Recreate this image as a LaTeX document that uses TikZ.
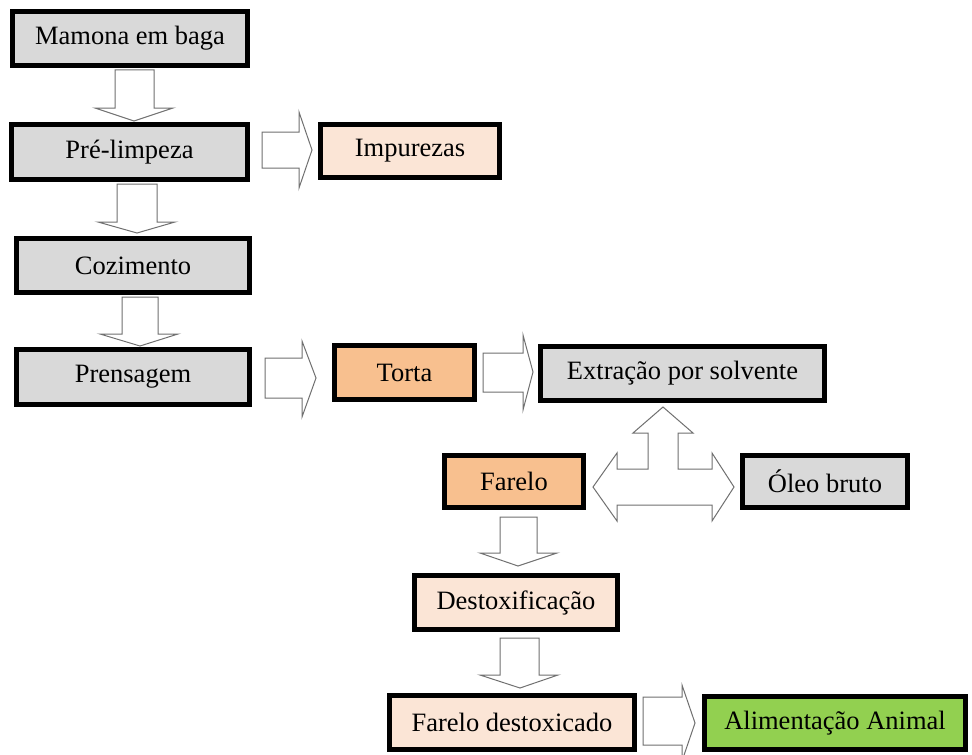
\documentclass[tikz,border=0pt]{standalone}
\usepackage{fontspec}
\setmainfont{Liberation Serif}
\definecolor{boxgray}{HTML}{D9D9D9}
\definecolor{boxpeach}{HTML}{FBE5D6}
\definecolor{boxorange}{HTML}{F8C08F}
\definecolor{boxgreen}{HTML}{92D050}
\definecolor{arrowline}{HTML}{707070}
\begin{document}
\begin{tikzpicture}[x=1bp,y=-1bp,
  box/.style={draw=black, line width=5bp, inner sep=0pt,
    font=\fontsize{26.5bp}{30bp}\selectfont, text=black},
  graybox/.style={box, fill=boxgray},
  peachbox/.style={box, fill=boxpeach},
  orangebox/.style={box, fill=boxorange},
  greenbox/.style={box, fill=boxgreen},
  blockarrow/.style={draw=arrowline, line width=1bp, fill=white, line join=miter}
]
\clip (0,0) rectangle (972,755);
\fill[white] (0,0) rectangle (972,755);

% boxes
\node[graybox, minimum width=235bp, minimum height=54bp] (mamona) at (130,38.5) {Mamona em baga};
\node[graybox, minimum width=236bp, minimum height=55bp] (prelimp) at (129.5,152) {Pré-limpeza};
\node[peachbox, minimum width=179bp, minimum height=53bp] (impurezas) at (410,151) {Impurezas};
\node[graybox, minimum width=233bp, minimum height=54bp] (cozimento) at (133,265.5) {Cozimento};
\node[graybox, minimum width=233bp, minimum height=55bp] (prensagem) at (133,377) {Prensagem};
\node[orangebox, minimum width=140bp, minimum height=54bp] (torta) at (404.5,372.5) {Torta};
\node[graybox, minimum width=284bp, minimum height=54bp] (extracao) at (682.5,373.5) {Extração por solvente};
\node[orangebox, minimum width=139bp, minimum height=52bp] (farelo) at (514,481.5) {Farelo};
\node[graybox, minimum width=165bp, minimum height=52bp] (oleo) at (825,481.5) {Óleo bruto};
\node[peachbox, minimum width=203bp, minimum height=54bp] (destox) at (516,602.5) {Destoxificação};
\node[peachbox, minimum width=245bp, minimum height=54bp] (fareloD) at (512,722.5) {Farelo destoxicado};
\node[greenbox, minimum width=261bp, minimum height=53bp] (alim) at (835,723) {Alimentação Animal};

% down block arrows
\draw[blockarrow] (115,70) -- (154,70) -- (154,108) -- (173,108) -- (134,121) -- (95,108) -- (115,108) -- cycle;
\draw[blockarrow] (117,184) -- (157,184) -- (157,222) -- (175,222) -- (137,233) -- (98,222) -- (117,222) -- cycle;
\draw[blockarrow] (122,297) -- (158,297) -- (158,334) -- (178,334) -- (140,346) -- (100,334) -- (122,334) -- cycle;
\draw[blockarrow] (500,517) -- (537,517) -- (537,553) -- (557,553) -- (518,566) -- (480,553) -- (500,553) -- cycle;
\draw[blockarrow] (500,638) -- (539,638) -- (539,675) -- (558,675) -- (520,688) -- (480,675) -- (500,675) -- cycle;

% right block arrows
\draw[blockarrow] (262,132) -- (299,132) -- (299,112) -- (312,150) -- (299,188) -- (299,168) -- (262,168) -- cycle;
\draw[blockarrow] (265,358) -- (302,358) -- (302,341) -- (316,378) -- (302,417) -- (302,398) -- (265,398) -- cycle;
\draw[blockarrow] (483,353) -- (523,353) -- (523,335) -- (533,372) -- (523,410) -- (523,392) -- (483,392) -- cycle;
\draw[blockarrow] (643,697) -- (682,697) -- (682,685) -- (695,723) -- (682,761) -- (682,745) -- (643,745) -- cycle;

% three-way arrow (Farelo / Extração / Óleo bruto)
\draw[blockarrow] (663,407) -- (693,433) -- (678,433) -- (678,469) -- (712,469) -- (712,453)
  -- (734,487) -- (712,521) -- (712,505) -- (617,505) -- (617,521) -- (593,487)
  -- (617,453) -- (617,469) -- (648,469) -- (648,433) -- (633,433) -- cycle;
\end{tikzpicture}
\end{document}
